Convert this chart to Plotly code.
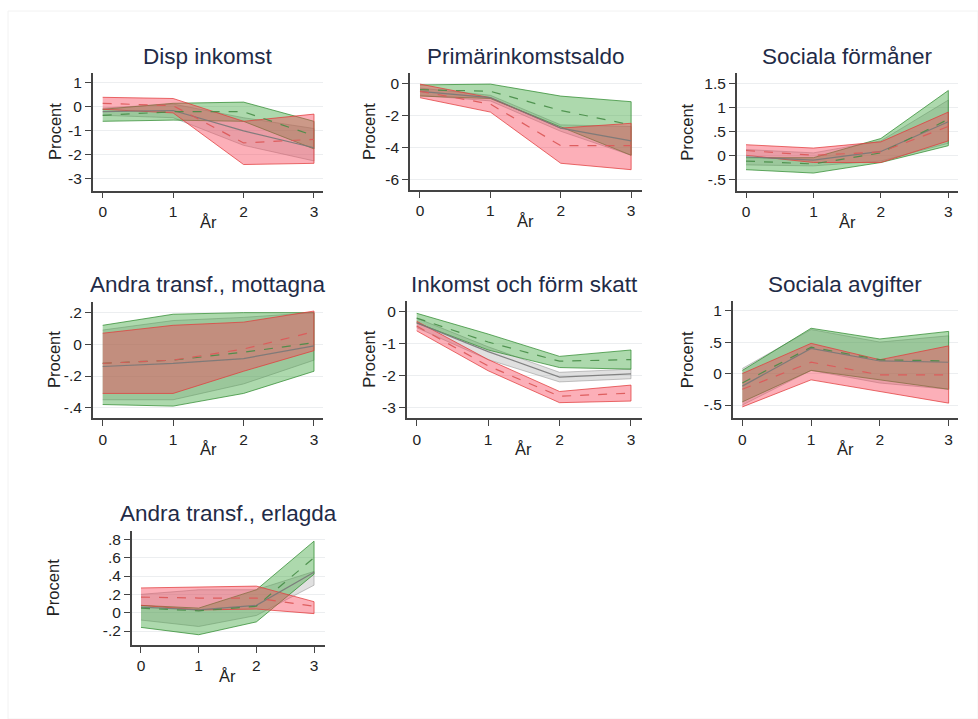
import plotly.graph_objects as go

W, H = 978, 719

years = [0, 1, 2, 3]

titles = ["Disp inkomst", "Primärinkomstsaldo", "Sociala förmåner",
          "Andra transf., mottagna", "Inkomst och förm skatt", "Sociala avgifter",
          "Andra transf., erlagda"]

# ---- data: (lo, mid, hi) per group ----
# Panel 1: Disp inkomst
p1_gray_lo = [-0.35, -0.45, -1.6, -2.25]
p1_gray_mid = [-0.2, -0.15, -1.0, -1.7]
p1_gray_hi = [-0.05, 0.12, -0.45, -0.9]
p1_green_lo = [-0.6, -0.55, -0.6, -1.75]
p1_green_mid = [-0.35, -0.2, -0.2, -1.2]
p1_green_hi = [-0.1, 0.15, 0.2, -0.6]
p1_red_lo = [-0.1, -0.25, -2.4, -2.35]
p1_red_mid = [0.15, 0.05, -1.5, -1.35]
p1_red_hi = [0.4, 0.35, -0.6, -0.3]

# Panel 2: Primärinkomstsaldo
p2_gray_lo = [-0.75, -1.1, -3.0, -4.5]
p2_gray_mid = [-0.5, -0.9, -2.8, -3.6]
p2_gray_hi = [-0.3, -0.75, -2.6, -2.7]
p2_green_lo = [-0.8, -0.95, -2.75, -4.5]
p2_green_mid = [-0.4, -0.5, -1.7, -2.6]
p2_green_hi = [-0.1, -0.05, -0.8, -1.15]
p2_red_lo = [-0.9, -1.8, -5.0, -5.4]
p2_red_mid = [-0.5, -1.3, -3.9, -3.9]
p2_red_hi = [-0.05, -0.9, -2.8, -2.5]

# Panel 3: Sociala förmåner
p3_gray_lo = [-0.2, -0.22, -0.12, 0.25]
p3_gray_mid = [-0.03, -0.1, 0.08, 0.7]
p3_gray_hi = [0.12, 0.05, 0.3, 1.15]
p3_green_lo = [-0.3, -0.37, -0.15, 0.2]
p3_green_mid = [-0.12, -0.18, 0.05, 0.75]
p3_green_hi = [-0.05, -0.05, 0.35, 1.35]
p3_red_lo = [0.0, -0.15, -0.15, 0.3]
p3_red_mid = [0.1, 0.0, 0.07, 0.6]
p3_red_hi = [0.22, 0.15, 0.28, 0.9]

# Panel 4: Andra transf., mottagna
p4_gray_lo = [-0.35, -0.35, -0.25, -0.1]
p4_gray_mid = [-0.14, -0.12, -0.09, -0.01]
p4_gray_hi = [0.09, 0.15, 0.17, 0.2]
p4_green_lo = [-0.38, -0.39, -0.31, -0.17]
p4_green_mid = [-0.12, -0.1, -0.05, 0.01]
p4_green_hi = [0.12, 0.19, 0.2, 0.2]
p4_red_lo = [-0.31, -0.31, -0.17, -0.04]
p4_red_mid = [-0.12, -0.1, -0.03, 0.08]
p4_red_hi = [0.07, 0.12, 0.14, 0.21]

# Panel 5: Inkomst och förm skatt
p5_gray_lo = [-0.5, -1.5, -2.2, -2.1]
p5_gray_mid = [-0.35, -1.25, -2.05, -1.95]
p5_gray_hi = [-0.2, -1.1, -1.9, -1.8]
p5_green_lo = [-0.35, -1.2, -1.75, -1.8]
p5_green_mid = [-0.2, -0.95, -1.55, -1.5]
p5_green_hi = [-0.05, -0.7, -1.4, -1.2]
p5_red_lo = [-0.6, -1.85, -2.85, -2.8]
p5_red_mid = [-0.45, -1.7, -2.65, -2.55]
p5_red_hi = [-0.3, -1.5, -2.5, -2.3]

# Panel 6: Sociala avgifter
p6_gray_lo = [-0.5, 0.05, -0.15, -0.25]
p6_gray_mid = [-0.2, 0.4, 0.2, 0.18]
p6_gray_hi = [0.08, 0.7, 0.5, 0.6]
p6_green_lo = [-0.45, 0.05, -0.1, -0.25]
p6_green_mid = [-0.15, 0.42, 0.22, 0.2]
p6_green_hi = [0.05, 0.72, 0.55, 0.67]
p6_red_lo = [-0.53, -0.1, -0.28, -0.47]
p6_red_mid = [-0.25, 0.18, -0.02, -0.02]
p6_red_hi = [0.0, 0.48, 0.22, 0.44]

# Panel 7: Andra transf., erlagda
p7_gray_lo = [-0.08, -0.15, -0.03, 0.3]
p7_gray_mid = [0.06, 0.03, 0.08, 0.44]
p7_gray_hi = [0.2, 0.25, 0.25, 0.45]
p7_green_lo = [-0.16, -0.24, -0.1, 0.42]
p7_green_mid = [0.05, 0.02, 0.07, 0.6]
p7_green_hi = [0.08, 0.05, 0.25, 0.78]
p7_red_lo = [0.08, 0.03, 0.04, -0.01]
p7_red_mid = [0.17, 0.16, 0.16, 0.07]
p7_red_hi = [0.27, 0.28, 0.29, 0.12]

panels_data = [
    [(p1_gray_lo, p1_gray_mid, p1_gray_hi), (p1_green_lo, p1_green_mid, p1_green_hi), (p1_red_lo, p1_red_mid, p1_red_hi)],
    [(p2_gray_lo, p2_gray_mid, p2_gray_hi), (p2_green_lo, p2_green_mid, p2_green_hi), (p2_red_lo, p2_red_mid, p2_red_hi)],
    [(p3_gray_lo, p3_gray_mid, p3_gray_hi), (p3_green_lo, p3_green_mid, p3_green_hi), (p3_red_lo, p3_red_mid, p3_red_hi)],
    [(p4_gray_lo, p4_gray_mid, p4_gray_hi), (p4_green_lo, p4_green_mid, p4_green_hi), (p4_red_lo, p4_red_mid, p4_red_hi)],
    [(p5_gray_lo, p5_gray_mid, p5_gray_hi), (p5_green_lo, p5_green_mid, p5_green_hi), (p5_red_lo, p5_red_mid, p5_red_hi)],
    [(p6_gray_lo, p6_gray_mid, p6_gray_hi), (p6_green_lo, p6_green_mid, p6_green_hi), (p6_red_lo, p6_red_mid, p6_red_hi)],
    [(p7_gray_lo, p7_gray_mid, p7_gray_hi), (p7_green_lo, p7_green_mid, p7_green_hi), (p7_red_lo, p7_red_mid, p7_red_hi)],
]

ytickvals = [
    [-3, -2, -1, 0, 1],
    [-6, -4, -2, 0],
    [-0.5, 0, 0.5, 1, 1.5],
    [-0.4, -0.2, 0, 0.2],
    [-3, -2, -1, 0],
    [-0.5, 0, 0.5, 1],
    [-0.2, 0, 0.2, 0.4, 0.6, 0.8],
]
yticktext = [
    ["-3", "-2", "-1", "0", "1"],
    ["-6", "-4", "-2", "0"],
    ["-.5", "0", ".5", "1", "1.5"],
    ["-.4", "-.2", "0", ".2"],
    ["-3", "-2", "-1", "0"],
    ["-.5", "0", ".5", "1"],
    ["-.2", "0", ".2", ".4", ".6", ".8"],
]

# ---- layout geometry (pixels): plot box x0,x1,y0(top),y1(bottom); axis ranges ----
boxes = [
    (92.7, 323.0, 73.3, 190.7),
    (410.0, 641.7, 73.3, 190.0),
    (736.7, 958.3, 73.3, 190.7),
    (92.7, 323.0, 301.7, 418.3),
    (406.7, 641.7, 301.0, 418.3),
    (732.7, 958.0, 301.0, 418.3),
    (131.7, 325.0, 530.7, 645.0),
]
xranges = [
    (-0.142, 3.128), (-0.142, 3.15), (-0.138, 3.148),
    (-0.142, 3.128), (-0.14, 3.15), (-0.14, 3.136), (-0.161, 3.19),
]
yranges = [
    (-3.49, 1.40), (-6.67, 0.625), (-0.7375, 1.708),
    (-0.467, 0.269), (-3.34, 0.335), (-0.711, 1.153), (-0.352, 0.894),
]
ylabel_x = [55, 368.3, 686.7, 54, 369, 686.7, 53.3]

styles = [
    dict(fill="rgba(165,165,165,0.35)", edge="rgba(150,150,150,0.55)", line="rgba(120,120,120,0.9)", dash="solid"),
    dict(fill="rgba(60,165,60,0.42)", edge="rgba(50,140,50,0.75)", line="rgba(70,140,70,0.9)", dash="dash"),
    dict(fill="rgba(248,65,85,0.42)", edge="rgba(225,60,60,0.75)", line="rgba(220,90,90,0.95)", dash="dash"),
]

fig = go.Figure()
annotations = []
layout_axes = {}
title_color = "#1f2b47"
tick_color = "#222222"
font_family = "Liberation Sans, Arial, sans-serif"

for i, groups in enumerate(panels_data):
    n = i + 1
    xa = "x" if n == 1 else f"x{n}"
    ya = "y" if n == 1 else f"y{n}"
    for (lo, mid, hi), st in zip(groups, styles):
        fig.add_trace(go.Scatter(
            x=years + years[::-1], y=hi + lo[::-1], fill="toself",
            fillcolor=st["fill"], line=dict(color=st["edge"], width=1),
            mode="lines", hoverinfo="skip", showlegend=False, xaxis=xa, yaxis=ya))
    for (lo, mid, hi), st in zip(groups, styles):
        fig.add_trace(go.Scatter(
            x=years, y=mid, mode="lines",
            line=dict(color=st["line"], width=1.2, dash=st["dash"]),
            showlegend=False, xaxis=xa, yaxis=ya))

    x0, x1, y0, y1 = boxes[i]
    xdom = [x0 / W, x1 / W]
    ydom = [1 - y1 / H, 1 - y0 / H]
    xkey = "xaxis" if n == 1 else f"xaxis{n}"
    ykey = "yaxis" if n == 1 else f"yaxis{n}"
    layout_axes[xkey] = dict(
        domain=xdom, range=list(xranges[i]), anchor=ya,
        tickvals=years, ticktext=[str(v) for v in years],
        ticks="outside", ticklen=6, tickwidth=1.3, tickcolor="#444",
        showline=True, linecolor="#444", linewidth=1.5,
        showgrid=False, zeroline=False,
        tickfont=dict(size=15.5, color=tick_color, family=font_family),
    )
    layout_axes[ykey] = dict(
        domain=ydom, range=list(yranges[i]), anchor=xa,
        tickvals=ytickvals[i], ticktext=yticktext[i],
        ticks="outside", ticklen=6, tickwidth=1.3, tickcolor="#444",
        showline=True, linecolor="#444", linewidth=1.5,
        showgrid=True, gridcolor="#eceef0", gridwidth=1, zeroline=False,
        tickfont=dict(size=15.5, color=tick_color, family=font_family),
    )
    cx = (x0 + x1) / 2
    annotations.append(dict(
        text=titles[i], x=cx / W, y=1 - (y0 - 17) / H, xref="paper", yref="paper",
        xanchor="center", yanchor="middle", showarrow=False,
        font=dict(size=22.5, color=title_color, family=font_family)))
    annotations.append(dict(
        text="Procent", x=ylabel_x[i] / W, y=1 - ((y0 + y1) / 2) / H,
        xref="paper", yref="paper", xanchor="center", yanchor="middle",
        textangle=-90, showarrow=False,
        font=dict(size=16.5, color=tick_color, family=font_family)))
    xr0, xr1 = xranges[i]
    px_zero = x0 + (0 - xr0) / (xr1 - xr0) * (x1 - x0)
    px_three = x0 + (3 - xr0) / (xr1 - xr0) * (x1 - x0)
    annotations.append(dict(
        text="År", x=((px_zero + px_three) / 2) / W, y=1 - (y1 + 31) / H,
        xref="paper", yref="paper", xanchor="center", yanchor="middle",
        showarrow=False,
        font=dict(size=16.5, color=tick_color, family=font_family)))

fig.update_layout(
    width=W, height=H, margin=dict(l=0, r=0, t=0, b=0),
    paper_bgcolor="white", plot_bgcolor="white",
    annotations=annotations,
    shapes=[dict(type="rect", xref="paper", yref="paper",
                 x0=8 / W, x1=1, y0=0, y1=1 - 11 / H,
                 line=dict(color="#f2f2f2", width=1))],
    **layout_axes,
)

fig.write_html("out.html", config={"displayModeBar": False},
               post_script="document.body.style.margin='0px';document.body.style.overflow='hidden';")
